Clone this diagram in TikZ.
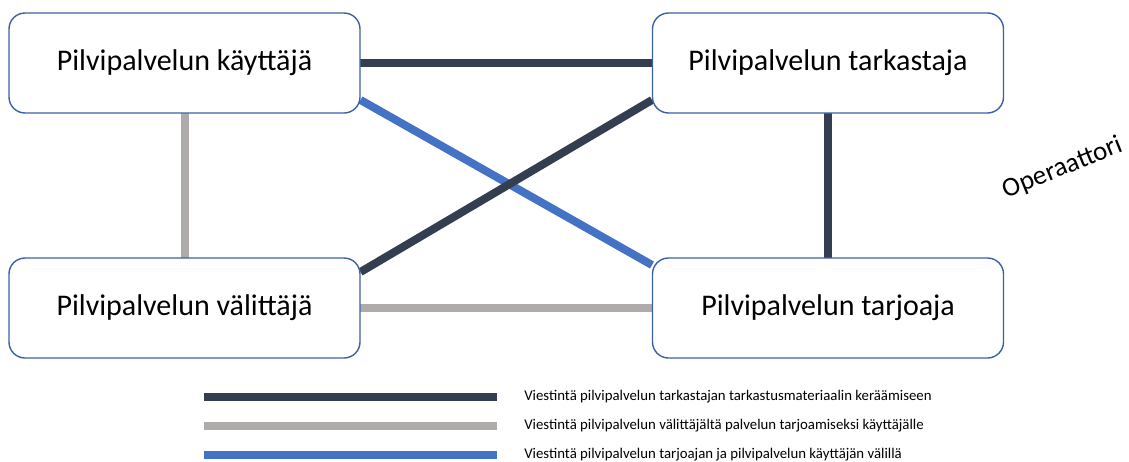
\documentclass[tikz,border=0pt]{standalone}
\usepackage{fontspec}
\setmainfont{Carlito}
\usetikzlibrary{calc}
\definecolor{tumma}{HTML}{333F50}
\definecolor{harmaa}{HTML}{AFABAB}
\definecolor{sininen}{HTML}{4472C4}
\tikzset{
  osapuoli/.style={draw=sininen!85!black,line width=1.4pt,fill=white,rounded corners=16pt,
    minimum width=351pt,minimum height=100pt,font=\fontsize{30}{36}\selectfont},
  viesti/.style={line width=8pt},
  selite/.style={right=20pt,font=\fontsize{14.8}{17}\selectfont,text=black}
}

\begin{document}
\begin{tikzpicture}[x=1pt,y=-1pt]
\useasboundingbox (0,0) rectangle (1129,461);
\coordinate (kayt) at (184.5,63);
\coordinate (tark) at (828,63);
\coordinate (valit) at (184.5,308);
\coordinate (tarj) at (828,308);
% yhteydet
\draw[viesti,tumma] (kayt)--(tark);
\draw[viesti,tumma] (tark)--(tarj);
\draw[viesti,harmaa] (kayt)--(valit);
\draw[viesti,harmaa] (valit)--(tarj);
\draw[viesti,sininen] ($(kayt)+(176,37)$)--($(tarj)+(-176,-43)$);
\draw[viesti,tumma] ($(valit)+(176,-36)$)--($(tark)+(-176,37)$);
% osapuolet
\node[osapuoli] (n1) at (kayt) {Pilvipalvelun käyttäjä};
\node[osapuoli] (n2) at (tark) {Pilvipalvelun tarkastaja};
\node[osapuoli] (n3) at (valit) {Pilvipalvelun välittäjä};
\node[osapuoli] (n4) at (tarj) {Pilvipalvelun tarjoaja};
\node[rotate=22,inner sep=0pt,font=\fontsize{27}{32}\selectfont] (op) at (1063,168) {Operaattori};
% selite
\draw[viesti,tumma] (204,397)--(497,397) node[selite] {Viestintä pilvipalvelun tarkastajan tarkastusmateriaalin keräämiseen};
\draw[viesti,harmaa] (204,426)--(497,426) node[selite] {Viestintä pilvipalvelun välittäjältä palvelun tarjoamiseksi käyttäjälle};
\draw[viesti,sininen] (204,455)--(497,455) node[selite] {Viestintä pilvipalvelun tarjoajan ja pilvipalvelun käyttäjän välillä};
\end{tikzpicture}
\end{document}
